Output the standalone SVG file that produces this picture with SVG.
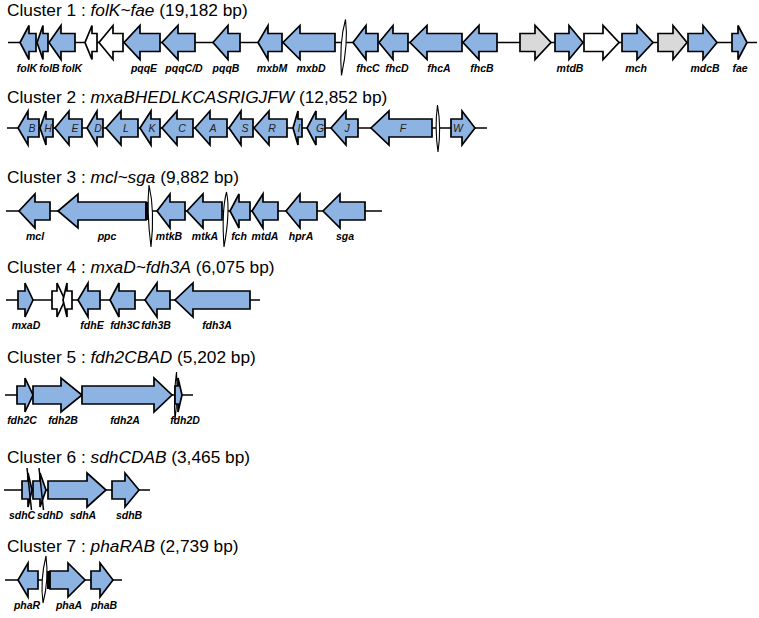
<svg xmlns="http://www.w3.org/2000/svg" width="759" height="618" viewBox="0 0 759 618">
<style>
.b{fill:#8db3e2;stroke:#000;stroke-width:1.7;stroke-linejoin:miter}
.w{fill:#fff;stroke:#000;stroke-width:1.7}
.g{fill:#d9d9d9;stroke:#000;stroke-width:1.7}
.ln{stroke:#000;stroke-width:1.5;fill:none}
.brk{fill:#fff;stroke:#000;stroke-width:1.1}
.bar{fill:#000}
.lab{font-family:"Liberation Sans",Arial,sans-serif;font-size:10.5px;font-weight:bold;font-style:italic;text-anchor:middle;fill:#000}
.in{font-family:"Liberation Sans",Arial,sans-serif;font-size:10.5px;font-style:italic;text-anchor:middle;fill:#222}
.t{font-family:"Liberation Sans",Arial,sans-serif;font-size:17.3px;fill:#000}
.i{font-style:italic}
</style>
<rect width="759" height="618" fill="#fff"/>
<g id="connectors">
<path class="ln" d="M8,42.5H757"/>
<path class="ln" d="M7,128H487"/>
<path class="ln" d="M6,211H382"/>
<path class="ln" d="M6,300H260"/>
<path class="ln" d="M5,395H193"/>
<path class="ln" d="M4,490H150"/>
<path class="ln" d="M5,580H122"/>
</g>
<g id="titles">
<text class="t" x="7" y="16">Cluster 1 : <tspan class="i">folK~fae</tspan> (19,182 bp)</text>
<text class="t" x="7" y="103">Cluster 2 : <tspan class="i">mxaBHEDLKCASRIGJFW</tspan> (12,852 bp)</text>
<text class="t" x="7" y="183">Cluster 3 : <tspan class="i">mcl~sga</tspan> (9,882 bp)</text>
<text class="t" x="7" y="273">Cluster 4 : <tspan class="i">mxaD~fdh3A</tspan> (6,075 bp)</text>
<text class="t" x="7" y="363">Cluster 5 : <tspan class="i">fdh2CBAD</tspan> (5,202 bp)</text>
<text class="t" x="7" y="463">Cluster 6 : <tspan class="i">sdhCDAB</tspan> (3,465 bp)</text>
<text class="t" x="7" y="552">Cluster 7 : <tspan class="i">phaRAB</tspan> (2,739 bp)</text>
</g>
<g id="cluster1" transform="translate(0,42.5)">
<g id="c1-folK1"><path class="b" d="M36,-9H29V-17L20,0L29,17V9H36Z"/><text class="lab" x="27" y="29">folK</text></g>
<g id="c1-folB"><path class="b" d="M48,-9H43V-17L37,0L43,17V9H48Z"/><text class="lab" x="49.5" y="29">folB</text></g>
<g id="c1-folK2"><path class="b" d="M75,-9H61V-17L49,0L61,17V9H75Z"/><text class="lab" x="72" y="29">folK</text></g>
<g id="c1-orf1"><path class="w" d="M97,-9H92V-17L85,0L92,17V9H97Z"/></g>
<g id="c1-orf2"><path class="w" d="M123,-9H113V-17L99,0L113,17V9H123Z"/></g>
<g id="c1-pqqE"><path class="b" d="M160,-9H140V-17L124,0L140,17V9H160Z"/><text class="lab" x="144" y="29">pqqE</text></g>
<g id="c1-pqqCD"><path class="b" d="M195,-9H178V-17L162,0L178,17V9H195Z"/><text class="lab" x="184" y="29">pqqC/D</text></g>
<g id="c1-pqqB"><path class="b" d="M240,-9H228V-17L213,0L228,17V9H240Z"/><text class="lab" x="226" y="29">pqqB</text></g>
<g id="c1-mxbM"><path class="b" d="M282,-9H268V-17L258,0L268,17V9H282Z"/><text class="lab" x="272" y="29">mxbM</text></g>
<g id="c1-mxbD"><path class="b" d="M335,-9H300V-17L283,0L300,17V9H335Z"/><text class="lab" x="311" y="29">mxbD</text></g>
<g id="c1-break"><path class="brk" d="M345.5,-23Q348.5,0 341.5,33Q339,0 345.5,-23Z"/></g>
<g id="c1-fhcC"><path class="b" d="M378,-9H366V-17L353,0L366,17V9H378Z"/><text class="lab" x="368" y="29">fhcC</text></g>
<g id="c1-fhcD"><path class="b" d="M408,-9H393V-17L379,0L393,17V9H408Z"/><text class="lab" x="397" y="29">fhcD</text></g>
<g id="c1-fhcA"><path class="b" d="M462,-9H427V-17L410,0L427,17V9H462Z"/><text class="lab" x="439" y="29">fhcA</text></g>
<g id="c1-fhcB"><path class="b" d="M497,-9H479V-17L463,0L479,17V9H497Z"/><text class="lab" x="482" y="29">fhcB</text></g>
<g id="c1-orf3"><path class="g" d="M520,-9H535V-17L551,0L535,17V9H520Z"/></g>
<g id="c1-mtdB"><path class="b" d="M555,-9H569V-17L583,0L569,17V9H555Z"/><text class="lab" x="570" y="29">mtdB</text></g>
<g id="c1-orf4"><path class="w" d="M584,-9H603V-17L619,0L603,17V9H584Z"/></g>
<g id="c1-mch"><path class="b" d="M622,-9H637V-17L653,0L637,17V9H622Z"/><text class="lab" x="636" y="29">mch</text></g>
<g id="c1-orf5"><path class="g" d="M658,-9H673V-17L687,0L673,17V9H658Z"/></g>
<g id="c1-mdcB"><path class="b" d="M688,-9H703V-17L717,0L703,17V9H688Z"/><text class="lab" x="705" y="29">mdcB</text></g>
<g id="c1-fae"><path class="b" d="M732,-9H738V-17L747,0L738,17V9H732Z"/><text class="lab" x="740" y="29">fae</text></g>
</g>
<g id="cluster2" transform="translate(0,128)">
<g id="c2-B"><path class="b" d="M39,-9H28V-17L18,0L28,17V9H39Z"/><text class="in" x="32" y="4">B</text></g>
<g id="c2-H"><path class="b" d="M53,-9H46V-17L40,0L46,17V9H53Z"/><text class="in" x="48" y="4">H</text></g>
<g id="c2-E"><path class="b" d="M82,-9H69V-17L55,0L69,17V9H82Z"/><text class="in" x="75" y="4">E</text></g>
<g id="c2-D"><path class="b" d="M103,-9H97V-17L87,0L97,17V9H103Z"/><text class="in" x="98" y="4">D</text></g>
<g id="c2-L"><path class="b" d="M138,-9H121V-17L106,0L121,17V9H138Z"/><text class="in" x="126" y="4">L</text></g>
<g id="c2-K"><path class="b" d="M160,-9H151V-17L140,0L151,17V9H160Z"/><text class="in" x="152" y="4">K</text></g>
<g id="c2-C"><path class="b" d="M193,-9H177V-17L162,0L177,17V9H193Z"/><text class="in" x="182" y="4">C</text></g>
<g id="c2-A"><path class="b" d="M227,-9H210V-17L195,0L210,17V9H227Z"/><text class="in" x="213" y="4">A</text></g>
<g id="c2-S"><path class="b" d="M253,-9H241V-17L229,0L241,17V9H253Z"/><text class="in" x="245" y="4">S</text></g>
<g id="c2-R"><path class="b" d="M287,-9H269V-17L254,0L269,17V9H287Z"/><text class="in" x="272" y="4">R</text></g>
<g id="c2-I"><path class="b" d="M302,-9H298V-17L293,0L298,17V9H302Z"/><text class="in" x="299" y="4">I</text></g>
<g id="c2-G"><path class="b" d="M325,-9H316V-17L307,0L316,17V9H325Z"/><text class="in" x="320" y="4">G</text></g>
<g id="c2-J"><path class="b" d="M358,-9H346V-17L331,0L346,17V9H358Z"/><text class="in" x="347" y="4">J</text></g>
<g id="c2-F"><path class="b" d="M432,-9H389V-17L371,0L389,17V9H432Z"/><text class="in" x="403" y="4">F</text></g>
<g id="c2-break"><path class="brk" d="M437.5,-23Q441.5,0 438,24Q434.5,0 437.5,-23Z"/></g>
<g id="c2-W"><path class="b" d="M451,-9H462V-17L475,0L462,17V9H451Z"/><text class="in" x="458" y="4">W</text></g>
</g>
<g id="cluster3" transform="translate(0,211)">
<g id="c3-mcl"><path class="b" d="M50,-9H35V-17L19,0L35,17V9H50Z"/><text class="lab" x="35" y="29">mcl</text></g>
<g id="c3-ppc"><path class="b" d="M146,-9H78V-17L58,0L78,17V9H146Z"/><rect class="bar" x="145" y="-9" width="3.5" height="18"/><text class="lab" x="107" y="29">ppc</text></g>
<g id="c3-break1"><path class="brk" d="M149,-26Q155,0 151,36Q146.5,0 149,-26Z"/></g>
<g id="c3-mtkB"><path class="b" d="M185,-9H170V-17L157,0L170,17V9H185Z"/><text class="lab" x="169" y="29">mtkB</text></g>
<g id="c3-mtkA"><path class="b" d="M222,-9H203V-17L187,0L203,17V9H222Z"/><text class="lab" x="205" y="29">mtkA</text></g>
<g id="c3-break2"><path class="brk" d="M226.5,-19Q230.5,0 224,36Q221.5,0 226.5,-19Z"/></g>
<g id="c3-fch"><path class="b" d="M250,-9H239V-17L230,0L239,17V9H250Z"/><text class="lab" x="239" y="29">fch</text></g>
<g id="c3-mtdA"><path class="b" d="M278,-9H263V-17L252,0L263,17V9H278Z"/><text class="lab" x="265" y="29">mtdA</text></g>
<g id="c3-hprA"><path class="b" d="M317,-9H300V-17L286,0L300,17V9H317Z"/><text class="lab" x="301" y="29">hprA</text></g>
<g id="c3-sga"><path class="b" d="M365,-9H340V-17L323,0L340,17V9H365Z"/><text class="lab" x="345" y="29">sga</text></g>
</g>
<g id="cluster4" transform="translate(0,300)">
<g id="c4-mxaD"><path class="b" d="M18,-9H25V-17L33,0L25,17V9H18Z"/><text class="lab" x="26" y="29">mxaD</text></g>
<g id="c4-orf1"><path class="w" d="M52,-9H57V-17L65,0L57,17V9H52Z"/></g>
<g id="c4-orf2"><path class="w" d="M72,-9H67V-17L63,0L67,17V9H72Z"/></g>
<g id="c4-fdhE"><path class="b" d="M100,-9H88V-17L78,0L88,17V9H100Z"/><text class="lab" x="92" y="29">fdhE</text></g>
<g id="c4-fdh3C"><path class="b" d="M135,-9H119V-17L110,0L119,17V9H135Z"/><text class="lab" x="125" y="29">fdh3C</text></g>
<g id="c4-fdh3B"><path class="b" d="M170,-9H157V-17L145,0L157,17V9H170Z"/><text class="lab" x="156" y="29">fdh3B</text></g>
<g id="c4-fdh3A"><path class="b" d="M250,-9H193V-17L175,0L193,17V9H250Z"/><text class="lab" x="217" y="29">fdh3A</text></g>
</g>
<g id="cluster5" transform="translate(0,395)">
<g id="c5-fdh2C"><path class="b" d="M17,-9H25V-17L33,0L25,17V9H17Z"/><text class="lab" x="22" y="29">fdh2C</text></g>
<g id="c5-fdh2B"><path class="b" d="M33,-9H61V-17L82,0L61,17V9H33Z"/><text class="lab" x="63" y="29">fdh2B</text></g>
<g id="c5-fdh2A"><path class="b" d="M82,-9H154V-17L172,0L154,17V9H82Z"/><text class="lab" x="125" y="29">fdh2A</text></g>
<g id="c5-break"><path class="brk" d="M176.5,-23Q178,0 175,25Q173.5,0 176.5,-23Z"/></g>
<g id="c5-fdh2D"><path class="b" d="M175,-9H178V-17L182,0L178,17V9H175Z"/><text class="lab" x="185" y="29">fdh2D</text></g>
</g>
<g id="cluster6" transform="translate(0,490)">
<g id="c6-sdhC"><path class="b" d="M22,-9H28V-17L32,0L28,17V9H22Z"/><path class="ln" stroke-width="1" d="M27,-22L31.5,20"/><text class="lab" x="22" y="29">sdhC</text></g>
<g id="c6-sdhD"><path class="b" d="M33,-9H40V-17L46,0L40,17V9H33Z"/><path class="ln" stroke-width="1" d="M39,-22L43.5,20"/><text class="lab" x="50" y="29">sdhD</text></g>
<g id="c6-sdhA"><path class="b" d="M48,-9H87V-17L106,0L87,17V9H48Z"/><text class="lab" x="83" y="29">sdhA</text></g>
<g id="c6-sdhB"><path class="b" d="M112,-9H125V-17L139,0L125,17V9H112Z"/><text class="lab" x="129" y="29">sdhB</text></g>
</g>
<g id="cluster7" transform="translate(0,580)">
<g id="c7-phaR"><path class="b" d="M38,-9H28V-17L18,0L28,17V9H38Z"/><text class="lab" x="27" y="29">phaR</text></g>
<g id="c7-break"><path class="brk" d="M46,-24Q49,0 43,23Q40,0 46,-24Z"/></g>
<g id="c7-phaA"><path class="b" d="M50,-9H68V-17L85,0L68,17V9H50Z"/><rect class="bar" x="47" y="-9" width="3.5" height="18"/><text class="lab" x="69" y="29">phaA</text></g>
<g id="c7-phaB"><path class="b" d="M91,-9H100V-17L113,0L100,17V9H91Z"/><text class="lab" x="104" y="29">phaB</text></g>
</g>
</svg>
